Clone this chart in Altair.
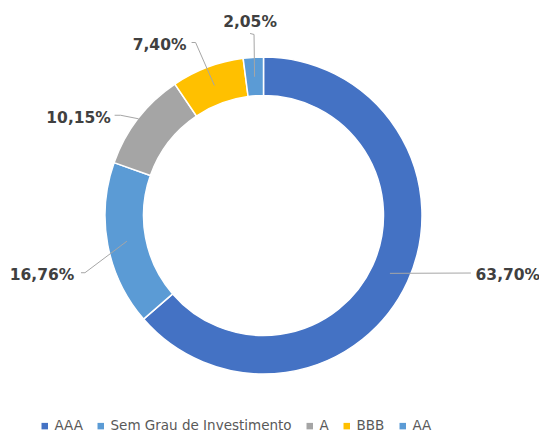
import math
import altair as alt
import pandas as pd

# ---- data ----
categories = ["AAA", "Sem Grau de Investimento", "A", "BBB", "AA"]
values = [63.70, 16.76, 10.15, 7.40, 2.05]
labels = ["63,70%", "16,76%", "10,15%", "7,40%", "2,05%"]
colors = ["#4472C4", "#5B9BD5", "#A5A5A5", "#FFC000", "#5B9BD5"]

# ---- layout (chart coordinates) ----
W, H = 531, 424
CX, CY = 255.5, 207.5
R_OUT, R_IN = 158.5, 120
# label placement: angle offset from slice middle (deg) and radius (px)
label_shift = [-10.9, -4.3, -10.0, -10.6, -0.3]
label_radius = [251.5, 229.3, 208.9, 200.1, 193.5]
leader_start_r = [139, 139, 158, 139, 139]
# leader end relative to label centre (px): list of points
leader_tail = [
    [(-37, -2)],
    [(43, -2), (39, -2)],
    [(42, -3), (36, -3)],
    [(36, -2), (32, -2)],
    [(4, 12), (0, 11)],
]

total = sum(values)
cum = 0
mids = []
for v in values:
    mids.append((cum + v / 2) / total * 360)
    cum += v


def polar(angle_deg, r):
    a = math.radians(angle_deg)
    return CX + r * math.sin(a), CY - r * math.cos(a)


slices = pd.DataFrame({"cat": categories, "val": values, "ord": list(range(len(values)))})

lab_rows = []
line_rows = []
for i, (c, lab) in enumerate(zip(categories, labels)):
    lx, ly = polar(mids[i] + label_shift[i], label_radius[i])
    lab_rows.append({"cat": c, "label": lab, "lx": lx, "ly": ly})
    sx, sy = polar(mids[i], leader_start_r[i])
    pts = [(sx, sy)] + [(lx + dx, ly + dy) for dx, dy in leader_tail[i]]
    for k, (px, py) in enumerate(pts):
        line_rows.append({"cat": c, "k": k, "px": px, "py": py})

labdf = pd.DataFrame(lab_rows)
linedf = pd.DataFrame(line_rows)

color_scale = alt.Scale(domain=categories, range=colors)

arcs = alt.Chart(slices).mark_arc(
    outerRadius=R_OUT, innerRadius=R_IN, stroke="white", strokeWidth=1.5
).encode(
    theta=alt.Theta("val:Q", stack=True),
    order=alt.Order("ord:Q"),
    color=alt.Color(
        "cat:N",
        scale=color_scale,
        sort=categories,
        legend=alt.Legend(
            title=None,
            orient="none",
            legendX=30,
            legendY=411,
            direction="horizontal",
            columns=5,
            symbolType="square",
            symbolSize=42,
            symbolStrokeWidth=0,
            labelFont="DejaVu Sans",
            labelFontSize=13.5,
            labelColor="#595959",
            labelOffset=3,
            labelLimit=400,
            columnPadding=11,
            padding=0,
        ),
    ),
    x=alt.value(CX),
    y=alt.value(CY),
)

lines = alt.Chart(linedf).mark_line(color="#A6A6A6", strokeWidth=1).encode(
    x=alt.X("px:Q", scale=None),
    y=alt.Y("py:Q", scale=None),
    detail="cat:N",
    order="k:Q",
)

texts = alt.Chart(labdf).mark_text(
    font="DejaVu Sans", fontSize=15.5, fontWeight="bold", color="#404040",
    align="center", baseline="middle"
).encode(
    x=alt.X("lx:Q", scale=None),
    y=alt.Y("ly:Q", scale=None),
    text="label:N",
)

chart = alt.layer(arcs, lines, texts).properties(
    width=W, height=H, padding=0, autosize=alt.AutoSizeParams(type="none"),
    background="white"
).configure_view(stroke=None)

chart.save("out.html", embed_options={"renderer": "svg", "actions": False})
